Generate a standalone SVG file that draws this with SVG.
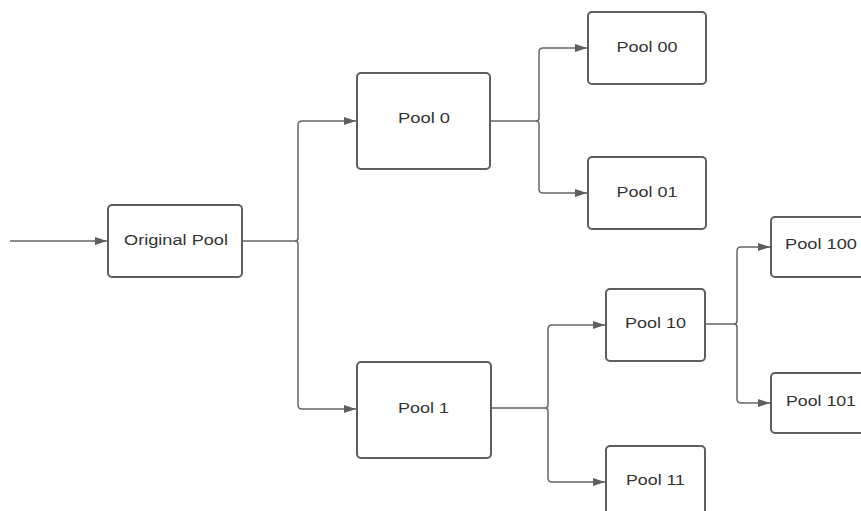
<svg xmlns="http://www.w3.org/2000/svg" width="861" height="511" viewBox="0 0 861 511">
  <style>
    .box { fill: #ffffff; stroke: #5e5e5e; stroke-width: 2; }
    .lbl { font-family: "Liberation Sans", Arial, sans-serif; font-size: 14px; fill: #333333; text-anchor: middle; }
    .wire { fill: none; stroke: #666666; stroke-width: 1.5; }
  </style>
  <defs>
    <marker id="arrow" markerWidth="12" markerHeight="8" refX="12" refY="4" orient="auto" markerUnits="userSpaceOnUse">
      <path d="M0,0 L12,4 L0,8 Z" fill="#5e5e5e"/>
    </marker>
  </defs>
  <rect width="861" height="511" fill="#ffffff"/>

  <g id="connectors">
    <path class="wire" d="M10,241 H107" marker-end="url(#arrow)"/>
    <path class="wire" d="M242,241 H295 Q298,241 298,238 V125 Q298,121 302,121 H356" marker-end="url(#arrow)"/>
    <path class="wire" d="M295,241 Q298,241 298,244 V405 Q298,409 302,409 H356" marker-end="url(#arrow)"/>
    <path class="wire" d="M490,121 H536 Q539,121 539,118 V52 Q539,48 543,48 H587" marker-end="url(#arrow)"/>
    <path class="wire" d="M536,121 Q539,121 539,124 V189 Q539,193 543,193 H587" marker-end="url(#arrow)"/>
    <path class="wire" d="M491,408 H545 Q548,408 548,405 V329 Q548,325 552,325 H605" marker-end="url(#arrow)"/>
    <path class="wire" d="M545,408 Q548,408 548,411 V478 Q548,482 552,482 H605" marker-end="url(#arrow)"/>
    <path class="wire" d="M705,324 H734 Q737,324 737,321 V251 Q737,247 741,247 H770" marker-end="url(#arrow)"/>
    <path class="wire" d="M734,324 Q737,324 737,327 V399 Q737,403 741,403 H770" marker-end="url(#arrow)"/>
  </g>

  <g id="original-pool">
    <rect class="box" x="108" y="205" width="134" height="72" rx="4"/>
    <text class="lbl" x="176" y="245" textLength="104" lengthAdjust="spacingAndGlyphs">Original Pool</text>
  </g>
  <g id="pool-0">
    <rect class="box" x="357" y="73" width="133" height="96" rx="4"/>
    <text class="lbl" x="424" y="123" textLength="52" lengthAdjust="spacingAndGlyphs">Pool 0</text>
  </g>
  <g id="pool-1">
    <rect class="box" x="357" y="362" width="134" height="96" rx="4"/>
    <text class="lbl" x="423.5" y="413" textLength="51" lengthAdjust="spacingAndGlyphs">Pool 1</text>
  </g>
  <g id="pool-00">
    <rect class="box" x="588" y="12" width="118" height="72" rx="4"/>
    <text class="lbl" x="647" y="52" textLength="61" lengthAdjust="spacingAndGlyphs">Pool 00</text>
  </g>
  <g id="pool-01">
    <rect class="box" x="588" y="157" width="118" height="72" rx="4"/>
    <text class="lbl" x="647" y="197" textLength="61" lengthAdjust="spacingAndGlyphs">Pool 01</text>
  </g>
  <g id="pool-10">
    <rect class="box" x="606" y="289" width="99" height="72" rx="4"/>
    <text class="lbl" x="655.5" y="328" textLength="61" lengthAdjust="spacingAndGlyphs">Pool 10</text>
  </g>
  <g id="pool-11">
    <rect class="box" x="606" y="446" width="99" height="72" rx="4"/>
    <text class="lbl" x="655.5" y="485" textLength="59" lengthAdjust="spacingAndGlyphs">Pool 11</text>
  </g>
  <g id="pool-100">
    <rect class="box" x="771" y="217" width="100" height="60" rx="4"/>
    <text class="lbl" x="821" y="249" textLength="72" lengthAdjust="spacingAndGlyphs">Pool 100</text>
  </g>
  <g id="pool-101">
    <rect class="box" x="771" y="373" width="100" height="60" rx="4"/>
    <text class="lbl" x="821" y="406" textLength="70" lengthAdjust="spacingAndGlyphs">Pool 101</text>
  </g>
</svg>
